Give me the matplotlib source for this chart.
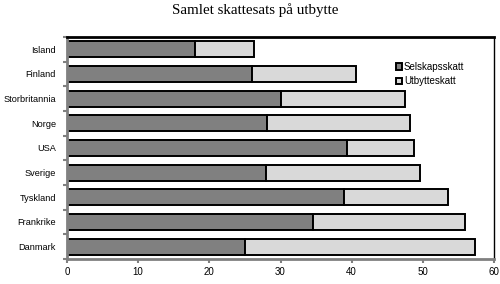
import matplotlib
matplotlib.use("Agg")
import matplotlib.pyplot as plt
import numpy as np

categories = ["Island", "Finland", "Storbritannia", "Norge", "USA", "Sverige",
              "Tyskland", "Frankrike", "Danmark"]
selskapsskatt = [18.0, 26.0, 30.1, 28.1, 39.3, 28.0, 38.9, 34.5, 25.0]
total = [26.3, 40.6, 47.5, 48.2, 48.8, 49.6, 53.5, 55.9, 57.4]
utbytteskatt = [t - s for t, s in zip(total, selskapsskatt)]
xticks = [0, 10, 20, 30, 40, 50, 60]

fig = plt.figure(figsize=(5.0, 2.84), dpi=100)
ax = fig.add_axes([0.134, 0.088, 0.854, 0.782])

y = np.arange(len(categories))
ax.barh(y, selskapsskatt, height=0.64, color="#808080", edgecolor="black",
        linewidth=1.4, label="Selskapsskatt")
ax.barh(y, utbytteskatt, left=selskapsskatt, height=0.64, color="#d9d9d9",
        edgecolor="black", linewidth=1.4, label="Utbytteskatt")

ax.set_xlim(0, 60)
ax.set_ylim(len(categories) - 0.5, -0.5)
ax.set_xticks(xticks)
ax.set_xticklabels([str(v) for v in xticks], fontsize=7, family="Liberation Sans")
ax.set_yticks(y)
ax.set_yticklabels(categories, fontsize=6.6, family="Liberation Sans")
ax.set_yticks(np.arange(len(categories) + 1) - 0.5, minor=True)
ax.tick_params(axis="y", which="major", length=0, pad=8)
ax.tick_params(axis="y", which="minor", length=3, color="#808080", width=1.5)
ax.tick_params(axis="x", which="major", length=3, color="#808080", width=1.5, pad=2.5)

for side in ["left", "bottom"]:
    ax.spines[side].set_color("#808080")
    ax.spines[side].set_linewidth(2)
ax.spines["top"].set_color("black")
ax.spines["top"].set_linewidth(2)
ax.spines["right"].set_color("black")
ax.spines["right"].set_linewidth(1)

leg = ax.legend(loc="upper left", bbox_to_anchor=(0.762, 0.905), frameon=False,
                prop={"family": "Liberation Sans", "size": 7},
                handlelength=0.6, handleheight=0.6, handletextpad=0.2,
                labelspacing=0.45, borderaxespad=0)

fig.text(0.51, 0.965, "Samlet skattesats på utbytte", ha="center", va="center",
         fontsize=10.8, family="Liberation Serif")

fig.savefig("out.png", dpi=100)
